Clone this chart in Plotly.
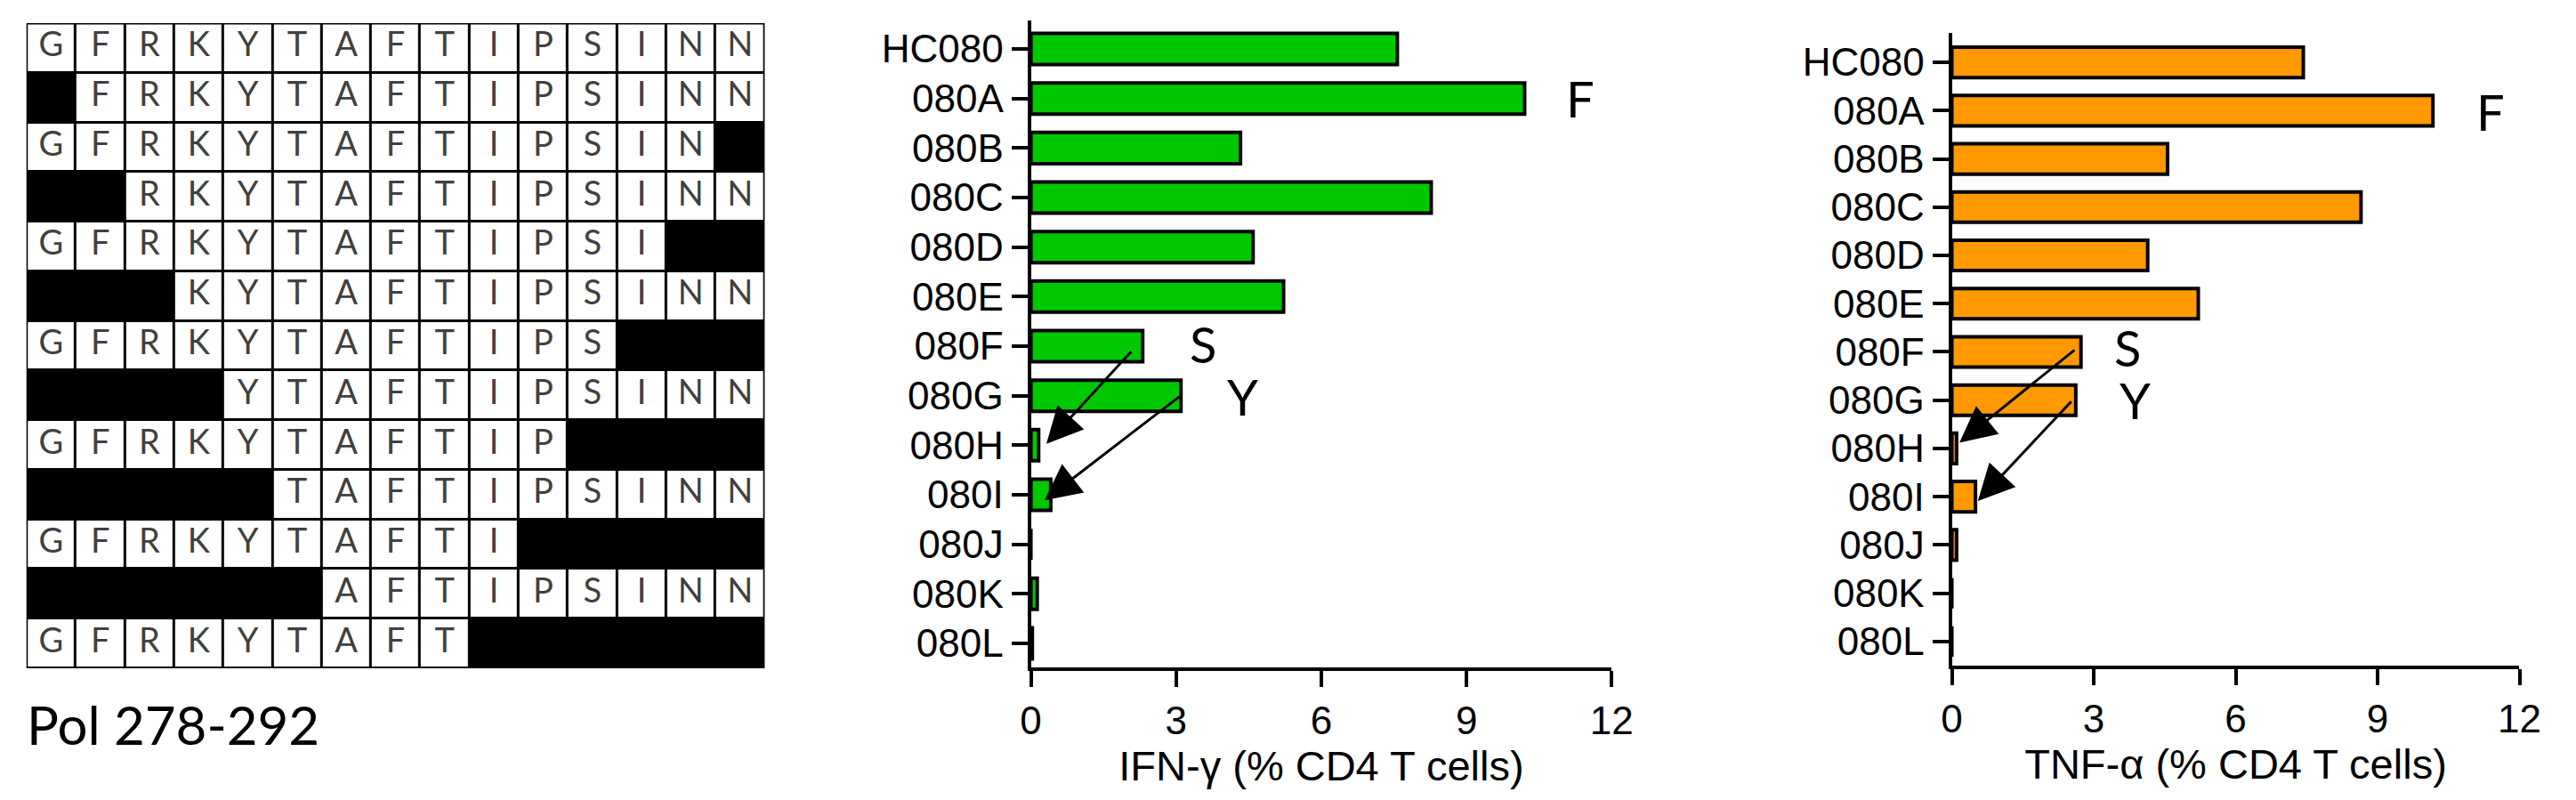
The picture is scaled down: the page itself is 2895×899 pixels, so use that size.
import plotly.graph_objects as go

W, H = 2895, 899

# ---------------- data ----------------
sequence = list("GFRKYTAFTIPSINN")
peptide_starts = [0, 1, 0, 2, 0, 3, 0, 4, 0, 5, 0, 6, 0]
peptide_ends = [14, 14, 13, 14, 12, 14, 11, 14, 10, 14, 9, 14, 8]
grid_caption = "Pol 278-292"

peptides = ["HC080", "080A", "080B", "080C", "080D", "080E", "080F",
            "080G", "080H", "080I", "080J", "080K", "080L"]
ifng = [7.57, 10.2, 4.33, 8.27, 4.59, 5.22, 2.31, 3.10, 0.16, 0.41, 0.0, 0.13, 0.03]
tnfa = [7.43, 10.17, 4.56, 8.65, 4.14, 5.21, 2.73, 2.62, 0.10, 0.50, 0.10, 0.0, 0.0]
x_ticks = [0, 3, 6, 9, 12]
ifng_title = "IFN-γ (% CD4 T cells)"
tnfa_title = "TNF-α (% CD4 T cells)"

# residue labels next to bars: (label, x value, category index)
ifng_labels = [("F", 11.35, 1), ("S", 3.55, 5.95), ("Y", 4.38, 7.02)]
tnfa_labels = [("F", 11.38, 1.03), ("S", 3.72, 5.9), ("Y", 3.88, 7.0)]
# arrows: (tail x, tail idx, tip x, tip idx)
ifng_arrows = [(2.10, 6.08, 0.32, 7.97), (3.09, 7.0, 0.28, 9.11)]
tnfa_arrows = [(2.62, 5.94, 0.16, 7.88), (2.55, 7.0, 0.55, 9.09)]

# ---------------- helpers ----------------
def xd(a, b):
    return [a / W, b / W]

def yd(top, bottom):
    return [1 - bottom / H, 1 - top / H]

fig = go.Figure()

# ---------------- peptide grid ----------------
z = []
lx, ly, lt = [], [], []
for r, (s, e) in enumerate(zip(peptide_starts, peptide_ends)):
    z.append([1 if s <= i <= e else 0 for i in range(len(sequence))])
    for i in range(s, e + 1):
        lx.append(i)
        ly.append(r)
        lt.append(sequence[i])

fig.add_trace(go.Heatmap(
    z=z, colorscale=[[0, "black"], [1, "white"]], zmin=0, zmax=1,
    showscale=False, xgap=3, ygap=3, hoverinfo="skip",
    xaxis="x", yaxis="y"))
fig.add_trace(go.Scatter(
    x=lx, y=ly, text=lt, mode="text", textposition="middle center",
    textfont=dict(family="Lato, Open Sans, sans-serif", size=38, color="#404040"),
    hoverinfo="skip", xaxis="x", yaxis="y", showlegend=False))

# ---------------- bar charts ----------------
fig.add_trace(go.Bar(
    y=peptides, x=ifng, orientation="h", width=0.63,
    marker=dict(color="#00C800", line=dict(color="black", width=4)),
    xaxis="x2", yaxis="y2", showlegend=False))
fig.add_trace(go.Bar(
    y=peptides, x=tnfa, orientation="h", width=0.63,
    marker=dict(color="#FF9900", line=dict(color="black", width=4)),
    xaxis="x3", yaxis="y3", showlegend=False))

tickfont = dict(family="Liberation Sans, Arial, sans-serif", size=44, color="black")
titlefont = dict(family="Liberation Sans, Arial, sans-serif", size=47, color="black")

def xaxis_cfg(dom, anchor, title):
    return dict(domain=dom, anchor=anchor, range=[0, 12], tickvals=x_ticks,
                showline=True, linewidth=4, linecolor="black",
                ticks="outside", ticklen=18, tickwidth=4, tickcolor="black",
                showgrid=False, zeroline=False, tickfont=tickfont,
                title=dict(text=title, font=titlefont, standoff=4))

def yaxis_cfg(dom, anchor, rng):
    return dict(domain=dom, anchor=anchor, type="category",
                categoryorder="array", categoryarray=peptides, range=rng,
                showline=True, linewidth=4, linecolor="black",
                ticks="outside", ticklen=18, tickwidth=4, tickcolor="black",
                showgrid=False, zeroline=False, tickfont=tickfont)

lab_font = dict(family="Lato, Open Sans, sans-serif", size=56, color="black")
annotations = []
for lab, xv, yi in ifng_labels:
    annotations.append(dict(text=lab, x=xv, y=yi, xref="x2", yref="y2", showarrow=False,
                            font=lab_font, borderpad=0))
for lab, xv, yi in tnfa_labels:
    annotations.append(dict(text=lab, x=xv, y=yi, xref="x3", yref="y3", showarrow=False,
                            font=lab_font, borderpad=0))
for (ax_, ay_, x_, y_) in ifng_arrows:
    annotations.append(dict(text="", x=x_, y=y_, ax=ax_, ay=ay_, xref="x2", yref="y2",
                            axref="x2", ayref="y2", showarrow=True, arrowhead=2,
                            arrowsize=2.7, arrowwidth=3, arrowcolor="black", standoff=0))
for (ax_, ay_, x_, y_) in tnfa_arrows:
    annotations.append(dict(text="", x=x_, y=y_, ax=ax_, ay=ay_, xref="x3", yref="y3",
                            axref="x3", ayref="y3", showarrow=True, arrowhead=2,
                            arrowsize=2.7, arrowwidth=3, arrowcolor="black", standoff=0))
annotations.append(dict(text=grid_caption, x=16 / W, y=1 - 814 / H, xref="paper", yref="paper",
                        xanchor="left", yanchor="middle", showarrow=False,
                        font=dict(family="Lato, Open Sans, sans-serif", size=60, color="black")))

fig.update_layout(
    width=W, height=H, margin=dict(l=0, r=0, t=0, b=0),
    paper_bgcolor="white", plot_bgcolor="white",
    showlegend=False, bargap=0.3,
    xaxis=dict(domain=xd(18, 858), anchor="y", range=[-0.5, 14.5], visible=False),
    yaxis=dict(domain=yd(26, 751), anchor="x", range=[12.5, -0.5], visible=False),
    xaxis2=xaxis_cfg(xd(1161, 1822), "y2", ifng_title),
    yaxis2=yaxis_cfg(yd(23, 750), "x2", [12.485, -0.575]),
    xaxis3=xaxis_cfg(xd(2209, 2855), "y3", tnfa_title),
    yaxis3=yaxis_cfg(yd(37, 748), "x3", [12.5, -0.61]),
    annotations=annotations,
    shapes=[
        dict(type="rect", xref="x", yref="y", x0=-0.5, x1=14.5, y0=-0.5, y1=12.5,
             fillcolor="black", line=dict(width=0), layer="below"),
        dict(type="rect", xref="x", yref="y", x0=-0.5, x1=14.5, y0=-0.5, y1=12.5,
             line=dict(color="black", width=3), layer="above"),
    ],
)

fig.write_html("out.html", config={"displayModeBar": False},
               post_script="document.body.style.margin='0';document.body.style.overflow='hidden';")
